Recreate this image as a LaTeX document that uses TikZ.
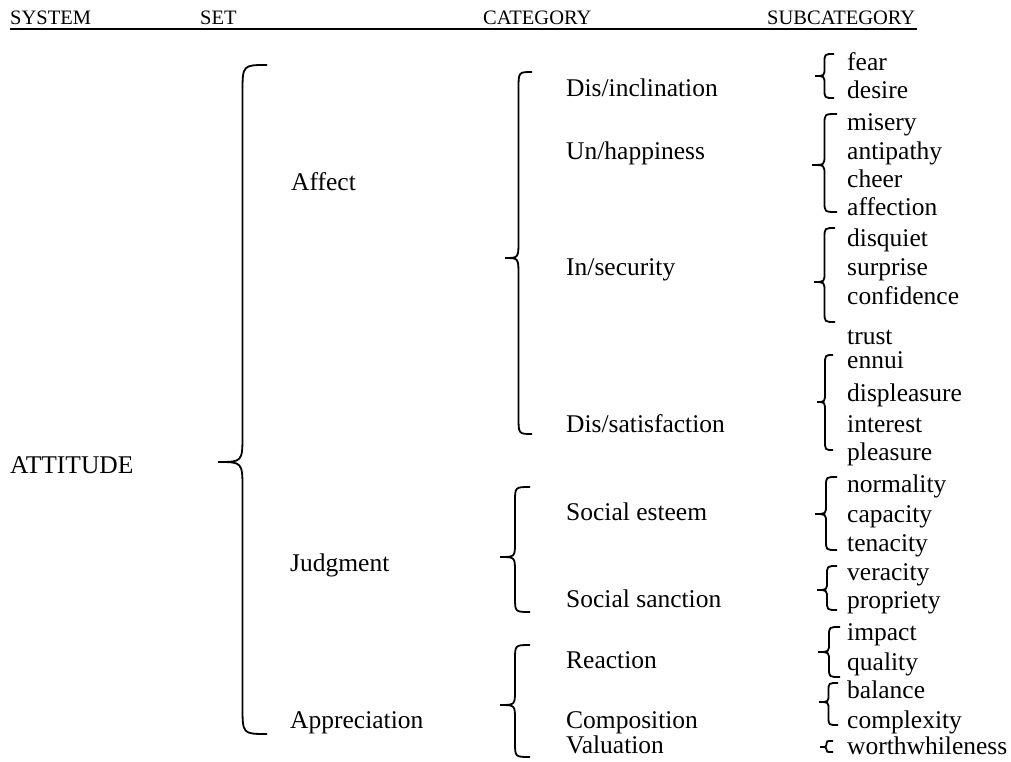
\documentclass[tikz,border=0pt]{standalone}
\usepackage{fontspec}
\setmainfont{Liberation Serif}
\usetikzlibrary{positioning}

% curly bracket: [curl size]{end x}{tip x}{top y}{tip y}{bottom y}
\newcommand{\curly}[6][9]{%
  \draw[bracket] (#2,#4) .. controls ({(#2+#3)/2},#4) .. ({(#2+#3)/2},{#4+#1})
    -- ({(#2+#3)/2},{#5-#1}) .. controls ({(#2+#3)/2},#5) .. (#3,#5)
    .. controls ({(#2+#3)/2},#5) .. ({(#2+#3)/2},{#5+#1})
    -- ({(#2+#3)/2},{#6-#1}) .. controls ({(#2+#3)/2},#6) .. (#2,#6);}

\begin{document}
\begin{tikzpicture}[
    x=1pt, y=-1pt,
    head/.style={
        anchor=base west,
        inner sep=0pt,
        font=\fontsize{20.5}{24}\selectfont
    },
    word/.style={
        anchor=base west,
        inner sep=0pt,
        font=\fontsize{25.5}{30}\selectfont
    },
    bracket/.style={line width=1.8pt}
]
\useasboundingbox (0,0) rectangle (1011,762);

% header
\node[head] (hsys) at (10,25) {SYSTEM};
\node[head] (hset) at (200,25) {SET};
\node[head] (hcat) at (483,25) {CATEGORY};
\node[head] (hsub) at (767,25) {SUBCATEGORY};
\draw[line width=2.2pt] ([yshift=-4pt]hsys.base west) -- ([xshift=2pt,yshift=-4pt]hsub.base east);

% system and sets
\node[word] (attitude) at (10,473) {ATTITUDE};
\node[word] (affect) at (291,190) {Affect};
\node[word] (judgment) at (290,571) {Judgment};
\node[word] (appreciation) at (290,728) {Appreciation};

% categories
\node[word] (disincl) at (566,97) {Dis/inclination};
\node[word] (unhappy) at (566,160) {Un/happiness};
\node[word] (insec) at (566,275) {In/security};
\node[word] (dissat) at (566,432) {Dis/satisfaction};
\node[word] (esteem) at (566,520) {Social esteem};
\node[word] (sanction) at (566,607) {Social sanction};
\node[word] (reaction) at (566,668) {Reaction};
\node[word] (composition) at (566,728) {Composition};
\node[word] (valuation) at (566,753) {Valuation};

% subcategories
\node[word] (fear) at (847,71) {fear};
\node[word] (desire) at (847,99) {desire};
\node[word] (misery) at (847,131) {misery};
\node[word] (antipathy) at (847,160) {antipathy};
\node[word] (cheer) at (847,188) {cheer};
\node[word] (affection) at (847,215) {affection};
\node[word] (disquiet) at (847,246) {disquiet};
\node[word] (surprise) at (847,275) {surprise};
\node[word] (confidence) at (847,304) {confidence};
\node[word] (trust) at (847,344) {trust};
\node[word] (ennui) at (847,368) {ennui};
\node[word] (displeasure) at (847,401) {displeasure};
\node[word] (interest) at (847,432) {interest};
\node[word] (pleasure) at (847,460) {pleasure};
\node[word] (normality) at (847,492) {normality};
\node[word] (capacity) at (847,522) {capacity};
\node[word] (tenacity) at (847,551) {tenacity};
\node[word] (veracity) at (847,580) {veracity};
\node[word] (propriety) at (847,608) {propriety};
\node[word] (impact) at (847,640) {impact};
\node[word] (quality) at (847,670) {quality};
\node[word] (balance) at (847,698) {balance};
\node[word] (complexity) at (847,728) {complexity};
\node[word] (worth) at (847,754) {worthwhileness};

% brackets
\curly[28]{267}{218}{65}{462}{734}
\curly[17]{532}{505}{72}{258}{434}
\curly[15]{530}{500}{487}{557}{612}
\curly[15]{530}{500}{645}{705}{757}
\curly{834}{815}{54}{76}{98}
\curly[10]{837}{812}{114}{165}{212}
\curly[10]{835}{814}{228}{282}{322}
\curly[10]{833}{817}{355}{402}{450}
\curly{837}{815}{477}{514}{550}
\curly{837}{817}{566}{590}{610}
\curly{840}{818}{627}{652}{677}
\curly[8]{838}{819}{683}{702}{725}
\curly[2.5]{833}{820}{741}{747}{752}

\end{tikzpicture}
\end{document}
